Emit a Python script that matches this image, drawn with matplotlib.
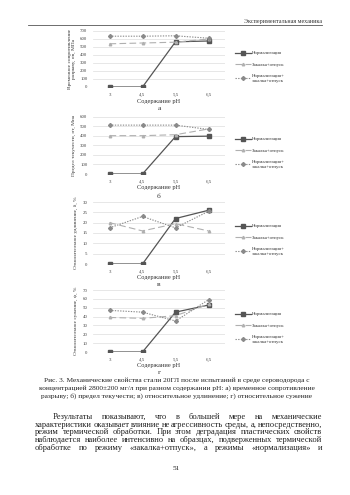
import matplotlib.pyplot as plt

plt.rcParams['font.family'] = ['Liberation Serif', 'DejaVu Serif']

# данные
ph = ['3', '4,5', '5,5', '6,5']
series_names = ['Нормализация', 'Закалка+отпуск', 'Нормализация+\nзакалка+отпуск']

sigma_b_norm = [0, 0, 565, 575]
sigma_b_zak = [540, 550, 560, 600]
sigma_b_nz = [635, 635, 640, 610]

sigma_t_norm = [0, 0, 390, 395]
sigma_t_zak = [400, 400, 410, 470]
sigma_t_nz = [510, 510, 510, 465]

delta_norm = [0, 0, 22, 26]
delta_zak = [20, 16, 19.5, 16]
delta_nz = [17.5, 23, 17.5, 25.5]

psi_norm = [0, 0, 45, 53]
psi_zak = [39, 38, 41, 54]
psi_nz = [47, 45, 35, 59]

W, H = 350, 495
fig = plt.figure(figsize=(3.5, 4.95), dpi=100)
fig.patch.set_facecolor('white')


def fx(px):
    return px / W


def fy(py):
    return 1 - py / H


# колонтитул
fig.text(fx(322), fy(21), 'Экспериментальная механика', ha='right', va='center', fontsize=4.4, color='#333333')
fig.add_artist(plt.Line2D([fx(28), fx(322)], [fy(24.5), fy(24.5)], color='#555555', lw=0.6))

panels = [
    (31, 87, [sigma_b_norm, sigma_b_zak, sigma_b_nz], 700, 100,
     'Временное сопротивление\nразрыву, σв, МПа', 'а', 101, 109, 67),
    (116.5, 174, [sigma_t_norm, sigma_t_zak, sigma_t_nz], 600, 100,
     'Предел текучести, σт, Мпа', 'б', 187, 196, 153),
    (202, 264, [delta_norm, delta_zak, delta_nz], 30, 5,
     'Относительное удлинение, δ, %', 'в', 277, 284, 240),
    (290, 352, [psi_norm, psi_zak, psi_nz], 70, 10,
     'Относительное сужение, ψ, %', 'г', 366, 373, 328),
]

styles = [
    dict(color='#555555', ls='-', lw=0.9, marker='s', ms=2.6),
    dict(color='#b0b0b0', ls=(0, (6, 3)), lw=0.8, marker='^', ms=1.8),
    dict(color='#8a8a8a', ls=(0, (1.2, 1.2)), lw=0.8, marker='D', ms=2.0),
]

for top, bottom, data, ymax, step, ylabel, letter, xl_y, let_y, leg_y in panels:
    ax = fig.add_axes([fx(93), fy(bottom), fx(225) - fx(93), (bottom - top) / H])
    for vals, name, st in zip(data, series_names, styles):
        ax.plot(ph, vals, label=name, **st)
    ax.set_xlim(-0.5, 3.5)
    ax.set_ylim(0, ymax)
    ax.set_yticks(range(0, ymax + 1, step))
    ax.grid(axis='y', color='#dddddd', lw=0.5)
    ax.set_axisbelow(True)
    for s in ax.spines.values():
        s.set_visible(False)
    ax.tick_params(length=0, labelsize=3.5, colors='#444444', pad=4)
    ax.set_ylabel(ylabel, fontsize=3.9, color='#333333', labelpad=3, linespacing=1.0)
    fig.text(fx(159), fy(xl_y), 'Содержание pH', ha='center', va='center', fontsize=4.6, color='#333333')
    fig.text(fx(159), fy(let_y), letter, ha='center', va='center', fontsize=5.4, color='#333333')
    ax.legend(loc='center left', bbox_to_anchor=(fx(235), fy(leg_y)), bbox_transform=fig.transFigure,
              frameon=False, fontsize=3.5, handlelength=3.2, handletextpad=0.3, labelspacing=1.5,
              borderaxespad=0, borderpad=0, labelcolor='#333333')

# подпись рисунка
caption = ['Рис. 3. Механические свойства стали 20ГЛ после испытаний в среде сероводорода с',
           'концентрацией 2800±200 мг/л при разном содержании pH: а) временное сопротивление',
           'разрыву; б) предел текучести; в) относительное удлинение; г) относительное сужение']
for i, line in enumerate(caption):
    fig.text(fx(177), fy(380 + i * 7.8), line, ha='center', va='center', fontsize=5.3, color='#222222')

# основной текст, выравнивание по ширине
para = ['Результаты показывают, что в большей мере на механические',
        'характеристики оказывает влияние не агрессивность среды, а, непосредственно,',
        'режим термической обработки. При этом деградация пластических свойств',
        'наблюдается наиболее интенсивно на образцах, подверженных термической',
        'обработке по режиму «закалка+отпуск», а режимы «нормализация» и']
renderer = fig.canvas.get_renderer()
left, right = 35, 322
for i, line in enumerate(para):
    y = fy(417 + i * 7.7)
    x0 = 53 if i == 0 else left
    words = line.split()
    objs = [fig.text(0, y, w, ha='left', va='center', fontsize=6.1, color='#222222') for w in words]
    widths = [o.get_window_extent(renderer).width for o in objs]
    gap = (right - x0 - sum(widths)) / (len(words) - 1)
    x = x0
    for o, w in zip(objs, widths):
        o.set_x(fx(x))
        x += w + gap

fig.text(fx(176), fy(468), '51', ha='center', va='center', fontsize=5.2, color='#222222')

plt.savefig('out.png', dpi=100, facecolor='white')
plt.close()
